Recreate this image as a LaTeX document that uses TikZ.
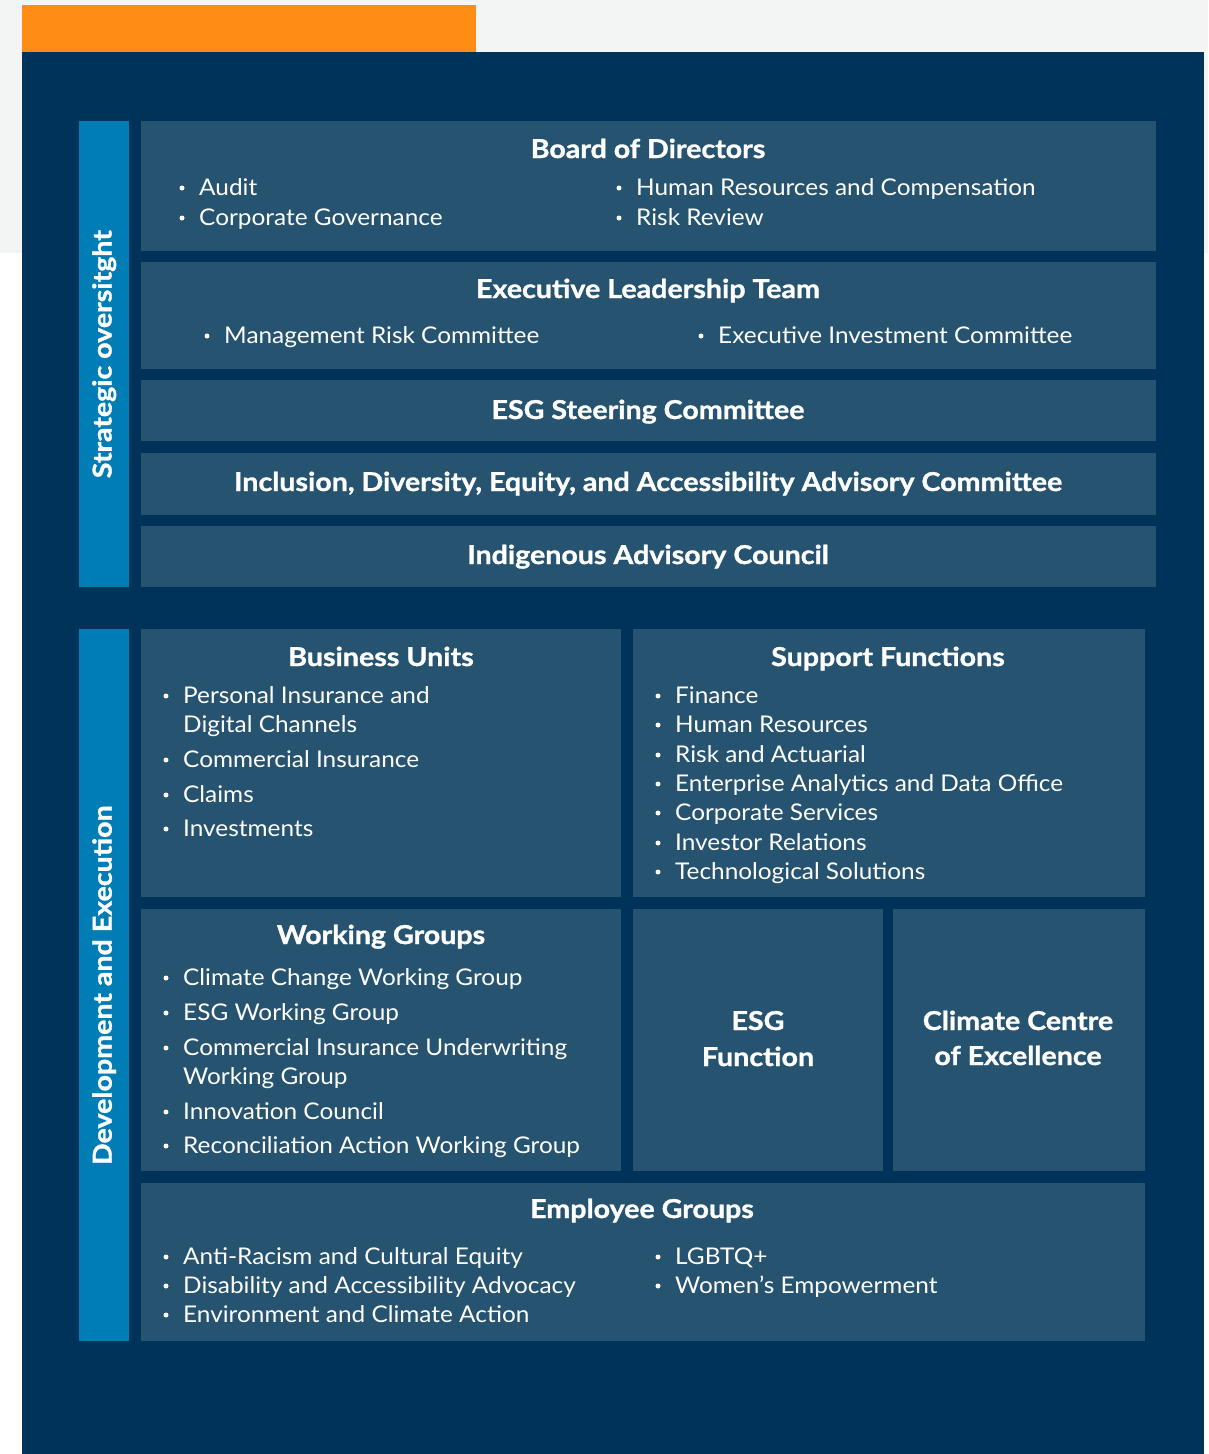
\documentclass[tikz,border=0pt]{standalone}
\usepackage{fontspec}
\setmainfont{Lato}[FakeStretch=1.06]
\newfontfamily\heavy{Lato}[FakeStretch=1.1, BoldFeatures={FakeBold=1.2}]
\definecolor{navy}{HTML}{00335A}
\definecolor{boxc}{HTML}{26536F}
\definecolor{barc}{HTML}{007DB4}
\definecolor{orng}{HTML}{FF8C14}
\definecolor{lgray}{HTML}{F3F4F4}
\tikzset{
  panel/.style={fill=boxc, draw=none, inner sep=0pt, anchor=north west},
  sidebar/.style={fill=barc, draw=none, inner sep=0pt, anchor=north west},
  ttl/.style={text=white, inner sep=0pt, anchor=base, font=\fontsize{26}{30}\heavy\bfseries},
  itm/.style={text=white, inner sep=0pt, anchor=base west, font=\fontsize{23}{27}\selectfont},
  bul/.style={fill=white, draw=none, circle, inner sep=0pt, minimum size=5pt},
  side/.style={text=white, inner sep=0pt, rotate=90, font=\fontsize{26}{30}\heavy\bfseries},
}
% #1 name, #2 x, #3 y (centre of text line), #4 text
\newcommand\bitem[4]{%
  \node[bul] (#1b) at (#2,#3+1) {};
  \node[itm] (#1) at (#2+17,#3+8) {#4};}
\newcommand\pitem[4]{%
  \node[itm] (#1) at (#2+17,#3+8) {#4};}
\begin{document}
\begin{tikzpicture}[x=1pt,y=-1pt]
\useasboundingbox (0,0) rectangle (1208,1454);
\fill[white] (0,0) rectangle (1208,1454);
\fill[lgray] (0,0) rectangle (1208,253);
\fill[orng] (22,5) rectangle (476,52);
\fill[navy] (22,52) rectangle (1204,1454);

% side bars
\node[sidebar, minimum width=50pt, minimum height=466pt] (bar1) at (79,121) {};
\node[sidebar, minimum width=50pt, minimum height=712pt] (bar2) at (79,629) {};
\node[side] (lab1) at (bar1.center) {Strategic oversitght};
\node[side] (lab2) at (bar2.center) {Development and Execution};

% top panels
\node[panel, minimum width=1015pt, minimum height=130pt] (board) at (141,121) {};
\node[panel, minimum width=1015pt, minimum height=107pt] (elt) at (141,262) {};
\node[panel, minimum width=1015pt, minimum height=61pt] (esgsc) at (141,380) {};
\node[panel, minimum width=1015pt, minimum height=62pt] (idea) at (141,453) {};
\node[panel, minimum width=1015pt, minimum height=61pt] (iac) at (141,526) {};

% bottom panels
\node[panel, minimum width=480pt, minimum height=268pt] (bu) at (141,629) {};
\node[panel, minimum width=512pt, minimum height=268pt] (sf) at (633,629) {};
\node[panel, minimum width=480pt, minimum height=262pt] (wg) at (141,909) {};
\node[panel, minimum width=250pt, minimum height=262pt] (esgf) at (633,909) {};
\node[panel, minimum width=252pt, minimum height=262pt] (ccoe) at (893,909) {};
\node[panel, minimum width=1004pt, minimum height=158pt] (eg) at (141,1183) {};

% Board
\node[ttl] (boardt) at (648,158) {Board of Directors};
\bitem{b1}{182}{187}{Audit}
\bitem{b2}{182}{217}{Corporate Governance}
\bitem{b3}{619}{187}{Human Resources and Compensation}
\bitem{b4}{619}{217}{Risk Review}

% ELT
\node[ttl] (eltt) at (648,298) {Executive Leadership Team};
\bitem{e1}{207}{335}{Management Risk Committee}
\bitem{e2}{701}{335}{Executive Investment Committee}

\node[ttl] (esgsct) at (648,419) {ESG Steering Committee};
\node[ttl] (ideat) at (648,491) {Inclusion, Diversity, Equity, and Accessibility Advisory Committee};
\node[ttl] (iact) at (648,564) {Indigenous Advisory Council};

% Business Units
\node[ttl] (but) at (381,666) {Business Units};
\bitem{u1}{166}{695}{Personal Insurance and}
\pitem{u1a}{166}{724}{Digital Channels}
\bitem{u2}{166}{759}{Commercial Insurance}
\bitem{u3}{166}{794}{Claims}
\bitem{u4}{166}{828}{Investments}

% Support Functions
\node[ttl] (sft) at (888,666) {Support Functions};
\bitem{s1}{658}{695}{Finance}
\bitem{s2}{658}{724}{Human Resources}
\bitem{s3}{658}{754}{Risk and Actuarial}
\bitem{s4}{658}{783}{Enterprise Analytics and Data Office}
\bitem{s5}{658}{812}{Corporate Services}
\bitem{s6}{658}{842}{Investor Relations}
\bitem{s7}{658}{871}{Technological Solutions}

% Working Groups
\node[ttl] (wgt) at (381,944) {Working Groups};
\bitem{w1}{166}{977}{Climate Change Working Group}
\bitem{w2}{166}{1012}{ESG Working Group}
\bitem{w3}{166}{1047}{Commercial Insurance Underwriting}
\pitem{w3a}{166}{1076}{Working Group}
\bitem{w4}{166}{1111}{Innovation Council}
\bitem{w5}{166}{1145}{Reconciliation Action Working Group}

% ESG Function / Climate Centre
\node[ttl] (esgft1) at (758,1030) {ESG};
\node[ttl] (esgft2) at (758,1066) {Function};
\node[ttl] (ccoet1) at (1018,1030) {Climate Centre};
\node[ttl] (ccoet2) at (1018,1065) {of Excellence};

% Employee Groups
\node[ttl] (egt) at (642,1218) {Employee Groups};
\bitem{g1}{166}{1256}{Anti-Racism and Cultural Equity}
\bitem{g2}{166}{1285}{Disability and Accessibility Advocacy}
\bitem{g3}{166}{1314}{Environment and Climate Action}
\bitem{g4}{658}{1256}{LGBTQ+}
\bitem{g5}{658}{1285}{Women’s Empowerment}
\end{tikzpicture}
\end{document}
